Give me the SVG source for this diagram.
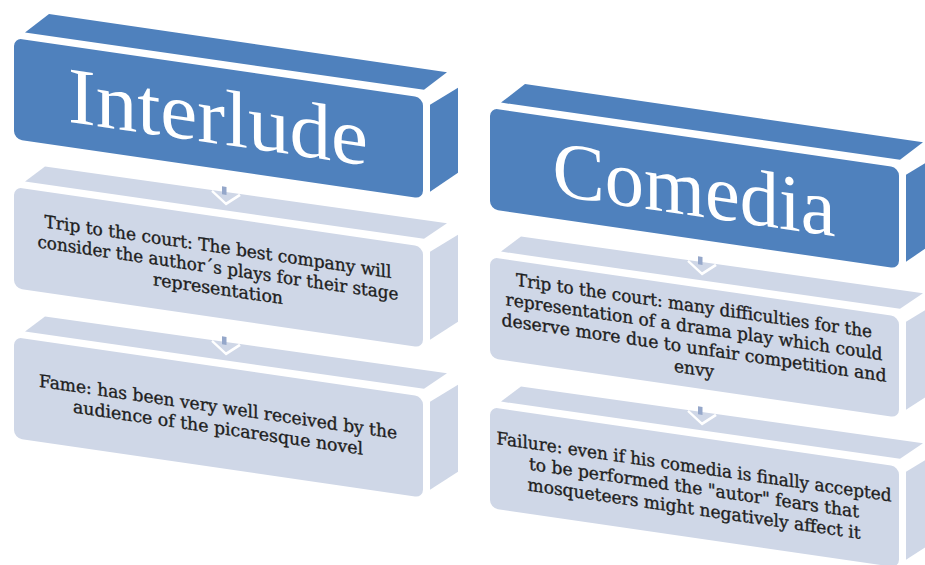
<svg xmlns="http://www.w3.org/2000/svg" width="925" height="565" viewBox="0 0 925 565">
<style>
.hdr{fill:#4F81BD}
.box{fill:#CFD7E7}
.ht{font-family:"Liberation Serif","Times New Roman",serif;font-size:80px;fill:#ffffff;text-anchor:middle}
.bt{font-family:"DejaVu Serif","Liberation Serif",serif;font-size:17.5px;fill:#1e1e1e;stroke:#1e1e1e;stroke-width:0.35;text-anchor:middle}
.gap{fill:none;stroke:#ffffff;stroke-width:2.5;stroke-linejoin:miter}
.tip{fill:#95A7CA}
</style>
<defs>
<g id="hdrShape">
<polygon class="hdr" points="11,-7 35,-29 433,-29 410,-8"/>
<rect class="hdr" x="0" y="0" width="409" height="101" rx="8"/>
<polygon class="hdr" points="416,6 444,-15 444,70 416,93"/>
</g>
<g id="boxShape">
<polygon class="box" points="11,-7 31,-25 433,-27 410,-8"/>
<rect class="box" x="0" y="0" width="409" height="101" rx="8"/>
<polygon class="box" points="416,4 444,-17 444,70 416,92"/>
</g>
<g id="arrowTip">
<polyline class="gap" points="198,-25 212,-14 226,-25"/>
<rect class="tip" x="208" y="-31" width="4.5" height="8"/>
</g>
</defs>
<g id="interlude" transform="translate(14,38) skewY(8.3)">
<use href="#hdrShape"/>
<text class="ht" x="204" y="76" textLength="300" lengthAdjust="spacingAndGlyphs">Interlude</text>
</g>
<g id="interlude-step1" transform="translate(14,187) skewY(8.3)">
<use href="#boxShape"/>
<text class="bt" x="204" y="36" textLength="347" lengthAdjust="spacingAndGlyphs">Trip to the court: The best company will</text>
<text class="bt" x="204" y="57" textLength="361" lengthAdjust="spacingAndGlyphs">consider the author´s plays for their stage</text>
<text class="bt" x="204" y="78" textLength="130" lengthAdjust="spacingAndGlyphs">representation</text>
</g>
<g id="interlude-step2" transform="translate(14,337) skewY(8.3)">
<use href="#boxShape"/>
<text class="bt" x="204" y="46" textLength="358" lengthAdjust="spacingAndGlyphs">Fame: has been very well received by the</text>
<text class="bt" x="204" y="67" textLength="290" lengthAdjust="spacingAndGlyphs">audience of the picaresque novel</text>
</g>
<g id="comedia" transform="translate(490,108) skewY(8.3)">
<use href="#hdrShape"/>
<text class="ht" x="204" y="78" textLength="283" lengthAdjust="spacingAndGlyphs">Comedia</text>
</g>
<g id="comedia-step1" transform="translate(490,257) skewY(8.3)">
<use href="#boxShape"/>
<text class="bt" x="204" y="25" textLength="356" lengthAdjust="spacingAndGlyphs">Trip to the court: many difficulties for the</text>
<text class="bt" x="204" y="46" textLength="377" lengthAdjust="spacingAndGlyphs">representation of a drama play which could</text>
<text class="bt" x="204" y="67" textLength="385" lengthAdjust="spacingAndGlyphs">deserve more due to unfair competition and</text>
<text class="bt" x="204" y="88" textLength="40" lengthAdjust="spacingAndGlyphs">envy</text>
</g>
<g id="comedia-step2" transform="translate(490,407) skewY(8.3)">
<use href="#boxShape"/>
<text class="bt" x="204" y="36" textLength="395" lengthAdjust="spacingAndGlyphs">Failure: even if his comedia is finally accepted</text>
<text class="bt" x="204" y="57" textLength="330" lengthAdjust="spacingAndGlyphs">to be performed the "autor" fears that</text>
<text class="bt" x="204" y="78" textLength="333" lengthAdjust="spacingAndGlyphs">mosqueteers might negatively affect it</text>
</g>
<g id="connectors">
<use href="#arrowTip" transform="translate(14,187) skewY(8.3)"/>
<use href="#arrowTip" transform="translate(14,337) skewY(8.3)"/>
<use href="#arrowTip" transform="translate(490,257) skewY(8.3)"/>
<use href="#arrowTip" transform="translate(490,407) skewY(8.3)"/>
</g>
</svg>
